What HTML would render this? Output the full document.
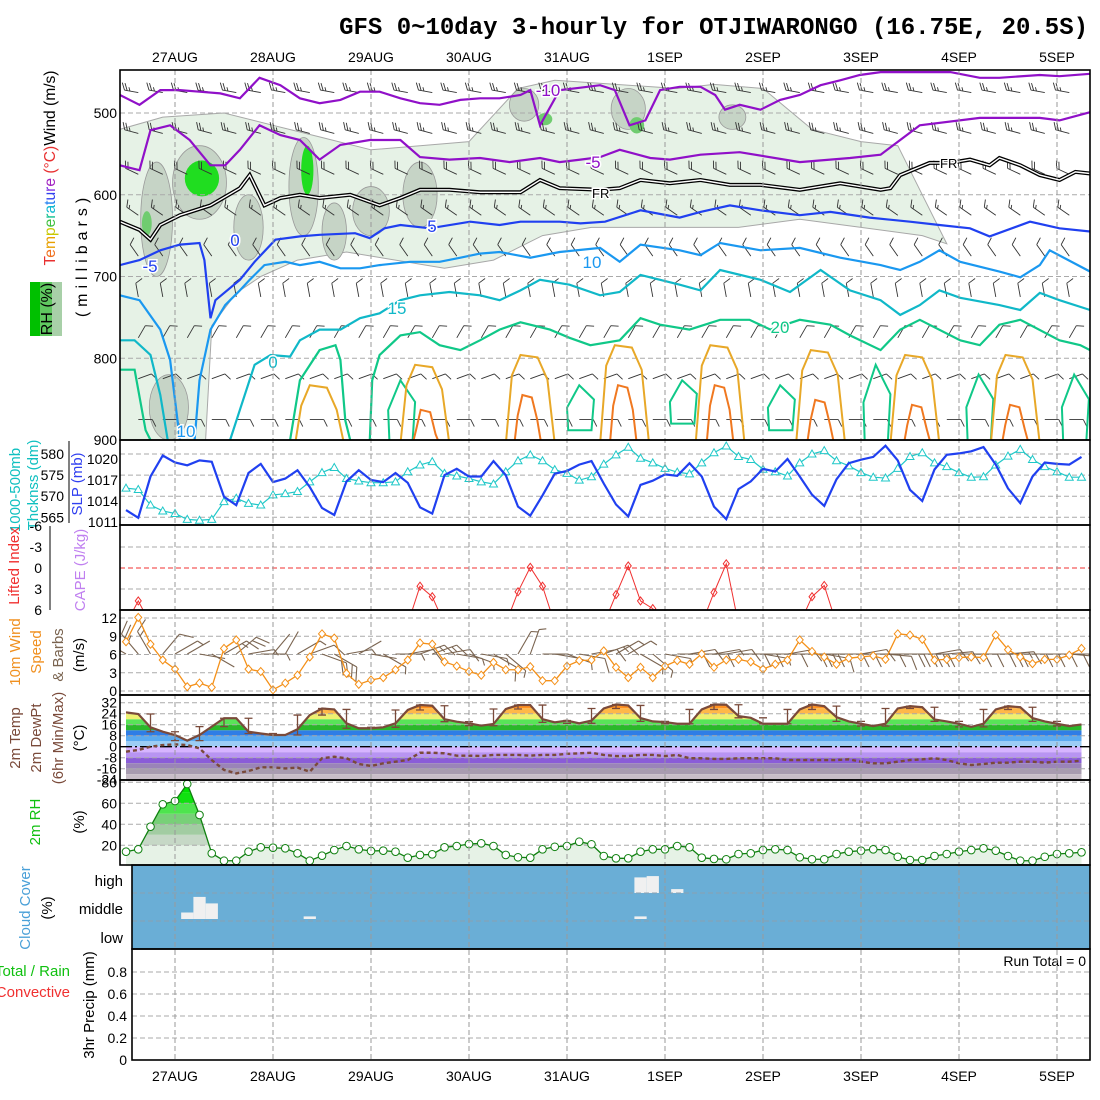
<!DOCTYPE html>
<html><head><meta charset="utf-8">
<style>body{margin:0;background:#fff}svg{display:block;font-family:"Liberation Sans",sans-serif}</style>
</head><body>
<svg id="c" width="1100" height="1100" viewBox="0 0 1100 1100" xmlns="http://www.w3.org/2000/svg">
<defs>
<clipPath id="cp1"><rect x="120" y="70" width="970" height="370"/></clipPath>
<clipPath id="cp2"><rect x="120" y="440" width="970" height="85"/></clipPath>
<clipPath id="cp3"><rect x="120" y="526" width="970" height="84"/></clipPath>
<clipPath id="cp4"><rect x="120" y="610" width="970" height="85"/></clipPath>
<clipPath id="cpT"><path id="tempArea"/></clipPath>
<clipPath id="cpR"><path id="rhArea"/></clipPath>
</defs>
<rect width="1100" height="1100" fill="#fff"/>
<text x="1088" y="34" text-anchor="end" font-family="Liberation Mono,monospace" font-weight="bold" font-size="24">GFS 0~10day 3-hourly for OTJIWARONGO (16.75E, 20.5S)</text>

<!-- left labels -->
<g font-size="16">
 <text transform="translate(55,168) rotate(-90)" text-anchor="middle" textLength="195" lengthAdjust="spacingAndGlyphs"><tspan fill="#e83030">T</tspan><tspan fill="#f07020">e</tspan><tspan fill="#e8a000">m</tspan><tspan fill="#c8c800">p</tspan><tspan fill="#40c040">e</tspan><tspan fill="#10c090">r</tspan><tspan fill="#10b8d0">a</tspan><tspan fill="#2080f0">t</tspan><tspan fill="#3040f0">u</tspan><tspan fill="#8030e0">r</tspan><tspan fill="#a020c0">e</tspan><tspan fill="#e83030"> (°C)</tspan><tspan fill="#000">Wind (m/s)</tspan></text>
 <rect x="30" y="282" width="32" height="54" fill="#60c860"/>
 <rect x="30" y="282" width="10" height="54" fill="#00c000"/>
 <rect x="52" y="282" width="10" height="54" fill="#a8d0a8"/>
 <text transform="translate(52,309) rotate(-90)" text-anchor="middle" fill="#000">RH (%)</text>
 <text transform="translate(87,255) rotate(-90)" text-anchor="middle" letter-spacing="5" fill="#000">(millibars)</text>
 <text transform="translate(20,490) rotate(-90)" text-anchor="middle" fill="#10c0c0" font-size="15">1000-500mb</text>
 <text transform="translate(38,485) rotate(-90)" text-anchor="middle" fill="#10c0c0" font-size="15">Thcknss (dm)</text>
 <text transform="translate(82,484) rotate(-90)" text-anchor="middle" fill="#3040f0" font-size="15">SLP (mb)</text>
 <text transform="translate(19,566) rotate(-90)" text-anchor="middle" fill="#f03030" font-size="15">Lifted Index</text>
 <text transform="translate(85,570) rotate(-90)" text-anchor="middle" fill="#c080f0" font-size="15">CAPE (J/kg)</text>
 <text transform="translate(20,652) rotate(-90)" text-anchor="middle" fill="#f09020" font-size="15">10m Wind</text>
 <text transform="translate(41,652) rotate(-90)" text-anchor="middle" fill="#f09020" font-size="15">Speed</text>
 <text transform="translate(63,655) rotate(-90)" text-anchor="middle" fill="#7a6450" font-size="15">&amp; Barbs</text>
 <text transform="translate(84,655) rotate(-90)" text-anchor="middle" fill="#000" font-size="15">(m/s)</text>
 <text transform="translate(20,738) rotate(-90)" text-anchor="middle" fill="#7a4a3a" font-size="15">2m Temp</text>
 <text transform="translate(41,738) rotate(-90)" text-anchor="middle" fill="#7a4a3a" font-size="15">2m DewPt</text>
 <text transform="translate(63,738) rotate(-90)" text-anchor="middle" fill="#7a4a3a" font-size="15">(6hr Min/Max)</text>
 <text transform="translate(84,738) rotate(-90)" text-anchor="middle" fill="#000" font-size="15">(°C)</text>
 <text transform="translate(40,822) rotate(-90)" text-anchor="middle" fill="#10c010" font-size="15">2m RH</text>
 <text transform="translate(84,822) rotate(-90)" text-anchor="middle" fill="#000" font-size="15">(%)</text>
 <text transform="translate(30,908) rotate(-90)" text-anchor="middle" fill="#4aa0d8" font-size="15">Cloud Cover</text>
 <text transform="translate(52,908) rotate(-90)" text-anchor="middle" fill="#000" font-size="15">(%)</text>
 <text x="70" y="976" text-anchor="end" fill="#10c010" font-size="15">Total / Rain</text>
 <text x="70" y="997" text-anchor="end" fill="#f03030" font-size="15">Convective</text>
 <text transform="translate(94,1005) rotate(-90)" text-anchor="middle" fill="#000" font-size="15">3hr Precip (mm)</text>
</g>
<g id="root"></g>
</svg>
<script>
// ---- data ----
const dates = ['27AUG','28AUG','29AUG','30AUG','31AUG','1SEP','2SEP','3SEP','4SEP','5SEP'];
const pressTicks = [500,600,700,800,900];
const slp = [1012.7,1011.6,1017.5,1020.5,1019.5,1019.1,1019.8,1019.6,1014.6,1013.4,1018,1019.3,1016.7,1017.2,1018.4,1016,1013,1012,1016.8,1018.4,1017,1016.7,1018,1016.6,1013.1,1012.2,1017.7,1018.6,1017.5,1017.5,1019.7,1017.7,1013.2,1011.9,1014.8,1017.9,1018.3,1019.2,1019.7,1016.5,1013.5,1011.8,1016.3,1016.9,1017.8,1017.6,1019.4,1017.5,1013.2,1011.4,1015.7,1016.8,1018.6,1018.2,1020,1017.5,1014.9,1013.3,1017.1,1019.4,1019.9,1020.3,1021.9,1019.8,1015.6,1014,1018.5,1020.6,1020.8,1021.1,1021.7,1019.2,1015.8,1013.7,1017.5,1019.5,1019.3,1019.2,1020.3];
const thick = [571.9,571.6,567.9,566.5,565.9,564.5,564.3,564.5,568.7,569.5,568.3,567.9,570.3,570.6,571.1,573.4,575.6,576.8,574.2,573.6,573.2,573.2,573.4,575.8,577.4,578.2,575.4,574.8,574.2,573.4,572.9,575.8,578.4,579.8,578.4,576.3,575.4,573.8,574.6,577.6,579.8,581.6,579,577.9,576.6,575.7,575.3,577.9,580.3,581.9,579.4,578.7,576.4,575.8,574.8,577.9,580,580.8,578.4,577.2,575.6,574.5,574.3,576.6,579.4,580.3,577.9,577,575.6,574.5,574.6,577.4,579.5,581.1,578.7,577,575.8,574.5,574.5];
const li = [8,4.7,8,9,9,9,9,9,9,9,9,9,9,9,9,9,9,9,9,9,9,9,9,8,2.6,4.1,8,9,9,9,9,8,3.4,-0.1,2.6,8,9,9,9,8,3.8,-0.3,4.7,5.8,8,9,9,8,3.5,-0.6,8,9,9,9,9,8,4.1,2.5,8,9,9,9,9,9,9,9,9,9,9,9,9,9,9,9,9,9,9,9,9];
const wind10 = [8.1,12.1,7.7,5.1,3.6,0.7,1.3,0.6,7.0,8.4,3.6,3.2,0.2,1.3,2.6,5.6,9.4,8.7,2.9,1.1,1.8,2.2,3.5,5.1,7.9,7.7,4.8,4.1,3.2,2.6,4.7,3.5,3.5,4.0,1.7,1.7,4.1,5.0,5.1,6.6,3.9,2.2,3.9,2.2,4.1,5.0,4.4,6.1,3.9,5.1,5.2,4.8,3.6,4.4,5.1,8.4,6.5,5.6,4.4,5.4,5.6,5.8,5.2,9.4,9.2,8.5,5.1,5.2,5.5,5.6,5.5,9.2,6.8,5.6,4.5,5.2,5.2,5.9,7.0];
const wdir10 = [300,320,330,40,60,60,100,120,60,50,80,90,40,30,60,70,110,120,80,60,100,120,90,80,70,70,80,100,110,100,120,130,30,20,90,100,110,100,80,70,60,60,120,130,100,90,80,90,80,80,90,90,100,90,80,90,90,100,90,90,80,90,95,90,90,90,80,85,90,90,90,90,85,90,90,90,90,95,90];
const temp = [25,23.8,14.1,10.9,8.5,4.4,8.5,14.6,20.7,20.7,10.9,9.6,8.5,8.5,12.7,23,27.8,27.1,17,13.4,13.4,14.1,17,26.7,30.3,29.8,20,18.2,17,15.3,16.5,27.4,30.3,30.3,20,17.7,19,17,19,27.8,30.7,30,20.8,18.4,17.9,16.7,16.7,27.1,30.7,30.5,22.3,21,16.7,16.7,16.7,27.1,30.7,29.5,21.5,18.4,16.7,15,16.7,27.8,29.5,28.7,19.8,18.4,16.7,14.4,16.7,27.1,29.5,28.7,20.8,18.4,16.7,15,16.2];
const dew = [-3.6,-2.4,0,1.2,1.7,1.2,-1.2,-9.7,-16.9,-19.4,-17.7,-15,-15,-15.8,-15.2,-18.2,-8.4,-7.3,-8.4,-12.6,-14,-12.1,-10.9,-9.7,-4.4,-4.4,-4.8,-6.5,-6.5,-6.8,-6,-6,-6,-6.5,-6,-6,-5.2,-4.8,-4.4,-6,-6.8,-6.8,-6,-6,-6.8,-6,-8.4,-8.4,-8.9,-8.9,-8.4,-8.4,-8.4,-8.4,-9.7,-9.7,-9.7,-9.7,-9.7,-9.2,-10.9,-12.1,-12.1,-10.9,-9.7,-9.2,-8.4,-9.7,-12.1,-13.3,-12.6,-11.6,-11.6,-10.9,-10.9,-11.6,-10.9,-10.9,-10.2];
const rh = [13.9,16.2,37.7,59,62.2,78.4,48.9,12.4,5.3,5.3,13.9,18.1,17.7,17.1,12.4,5.3,10.1,15.5,19.3,16.2,14.6,14.9,13.9,8.2,10.8,11.4,18.1,19.3,21.2,21.9,19.3,10.8,8.6,8.2,16.2,18.6,19.3,23.4,21,9.8,7.6,7.6,13.9,16.2,16.2,19.3,18.1,8.2,7,6.7,11.7,12.4,15.5,16.2,15.5,8.6,6.7,6.7,11.7,13.9,14.9,16.2,15.5,9.1,6,6,9.8,11.7,13.9,15.5,17.1,14.9,9.8,5.3,5.3,9.1,11.7,12.4,13.3];
const cloudIdx = [5,6,7,15,42,42,43,45];
const cloudLayer = ['mid','mid','mid','mid','high','mid','high','high'];
const cloudPct = [25,85,60,10,60,10,65,15];
// isotherms: time index / pressure (mb)
const m10T = [-0.5,1.1,2.8,4.4,6,7.7,9.3,10.9,12.6,14.2,15.8,17.5,19.1,20.7,22.4,24,25.6,27.3,28.9,30.5,32.2,33,33.8,35.4,37.1,38.7,39.9,41.1,42.4,43.6,45.2,46.9,48.1,48.9,50.1,51.8,53.4,55,56.7,58.3,59.9,61.6,63.2,67.3,69.7,71.3,74.6,76.2,78.7];
const m10P = [478,490,472,472,474,476,482,457,466,482,488,484,474,474,482,488,490,484,482,482,478,472,515,472,469,466,472,515,509,472,468,468,478,496,490,496,484,478,466,460,453.5,450,450,450,457,457,453.5,455,452];
const m5T = [-0.5,1.1,2,3.6,5.2,6.9,8.1,9.3,10.9,12.6,14.2,15,15.8,17.5,19.9,22.4,24,26.4,28.9,31.3,33.8,35.4,37.1,38.7,40.3,42.8,44.4,46.9,50.1,55,59.1,61.6,63.2,64.8,69.7,74.6,76.2,78.7];
const m5P = [564,570,521,515,533,564,564,545,515,527,533,545,557,539,533,533,554,557,555,560,555,560,557,554,545,555,557,551,548,560,555,551,533,515,506,506,509,499];
const frT = [-0.5,1.1,2,2.8,4.4,6.9,9.3,10.1,11.3,12.6,14.2,15.8,18.3,20.7,22.4,24,26.4,28.9,32.2,33.8,35.4,38.7,40.3,42,44.4,46.9,49.3,51.8,55,58.3,61.6,62.4,63.2,65.6,67.3,68.9,70.5,71.3,73,74.6,76.2,77.5,78.7];
const frP = [633,643,655,637,625,613,592,576,613,604,600,604,600,613,604,594,594,597,597,582,592,594,592,582,586,582,588,588,594,586,594,592,576,561,561,557,564,555,564,576,582,572,574];
const p5T = [-0.5,1.1,2.8,4.4,6,6.4,6.9,7.3,9.3,10.5,12.2,14.2,15.8,18.7,19.9,21.1,22.4,24.8,28.1,30.5,32.2,35.4,37.1,39.1,42,45.2,46.9,49.3,51.8,55,57.5,60.7,64,66.4,68.9,70.5,73.8,76.2,78.7];
const p5P = [686,680,668,661,659,680,751,729,704,682,655,651,649,647,653,641,637,641,633,637,633,633,635,633,619,628,621,613,619,625,621,628,633,637,641,651,633,641,645];
const p10T = [-0.5,1.1,2.8,3.6,4,4.4,null,5.6,6,6.9,8.1,9.3,10.1,11.3,13,14.2,15.8,17.5,19.1,20.7,23.2,25.6,27.3,28.9,30.5,33,35.4,38.7,40.3,42,45.2,46.9,48.5,51.8,55,58.3,61.6,63.2,64.8,66.4,68.1,71.3,73,74.6,75.4,78.7];
const p10P = [723,729,765,802,851,900,null,900,827,765,735,717,704,686,682,686,682,690,690,686,682,682,677,672,670,677,670,665,682,661,668,674,659,668,665,677,686,692,682,668,682,694,701,686,668,694];
const p15T = [-0.5,0.7,2,2.8,3.4,null,8.5,9.3,10.5,11.8,13.4,14.2,15.8,17.5,19.1,20.7,22.4,24,26.4,28.9,30.5,32.2,33.8,36.2,38.7,40.3,42,45.2,46.9,48.5,51.8,54.2,56.7,59.1,61.6,63.2,64.8,66.4,68.1,71.3,73,74.6,76.2,78.7];
const p15P = [778,778,796,845,900,null,900,863,808,796,798,778,765,765,751,745,729,723,719,723,729,717,704,710,723,719,698,710,717,692,704,719,692,717,729,747,735,717,726,735,741,720,729,741];
const p20T = [-0.5,0.7,1.6,2,null,13.4,14.2,15.8,17.1,17.5,17.9,18.3,null,19.9,20.1,20.7,22.4,24,25.6,27.3,28.9,30.5,32.2,34.6,36.2,37.9,40.3,42,43.6,46,48.5,50.9,52.6,55,57.5,59.1,61.6,63.2,64.8,68.1,69.7,71.3,73,76.2,77.9,78.7];
const p20P = [814,814,888,900,null,900,827,790,784,802,876,900,null,900,827,796,772,768,784,790,778,765,756,765,775,784,778,751,759,765,753,753,765,753,759,772,790,765,753,778,784,759,753,778,784,790];
const pocketT = [22.6,37.2,45.6,53.6,61.4,69.8,77.6];
const pocketTop = [827,833,827,833,808,820,820];
const pocketBot = [900,888,880,888,900,900,900];
const arch25T = [15.8,24.4,33,40.7,48.5,56.7,64.4,72.6];
const arch25Top = [833,808,796,784,784,790,796,796];
const arch30T = [24.5,32.8,40.6,48.5,56.7,64.6,72.6];
const arch30Top = [863,845,833,833,851,857,857];
const rhUpT = [-0.5,3,8,12,16,20,24,28,32,35,40,45,48,52,56,60,63,65,67];
const rhUpP = [520,505,500,515,530,545,540,535,470,460,465,470,465,470,520,535,540,600,660];
const rhLoT = [65,60,55,50,46,42,38,34,30,26,22,18,14,11,9,7,6.5,-0.5];
const rhLoP = [650,640,630,640,640,640,640,650,680,690,680,670,680,700,720,760,900,900];
const blobT = [2.5,6,14.5,10,20,24,32.5,41,49.5,3.5,17];
const blobP1 = [560,540,530,600,590,560,470,470,490,820,610];
const blobP2 = [700,630,650,680,650,640,510,520,520,900,680];
const blobW = [1.3,2.2,1.2,1.2,1.5,1.4,1.2,1.4,1.1,1.6,1];
const greenT = [6.2,14.8,1.7,34.2,41.7];
const greenP1 = [558,540,620,500,505];
const greenP2 = [602,600,650,515,525];
const greenW = [1.4,0.5,0.4,0.6,0.6];
const barbLevels = [475,525,575,625,675,725,775,825,875];
const barbSpd = [14,14,11,8,6,5,5,5,5];
const barbDir = [280,285,295,305,325,350,30,70,90];

// ---- scales ----
const X = i => 126 + 12.25*i;
const yP = p => 113 + (p-500)*0.8175;
const yTh = v => 454 + (580-v)*4.22;
const ySlp = v => 459 + (1020-v)*7;
const yLI = v => 568 + v*7;
const yW = v => 691 - v*6.08;
const yT = v => 746.7 - v*1.375;
const yRH = v => 866.3 - v*1.05;
const yPr = v => 1060 - v*110;

const NS='http://www.w3.org/2000/svg';
const root=document.getElementById('root');
function mk(parent,tag,attrs){const e=document.createElementNS(NS,tag);for(const k in attrs)e.setAttribute(k,attrs[k]);parent.appendChild(e);return e;}
function grp(clip){const g=mk(root,'g',clip?{'clip-path':'url(#'+clip+')'}:{});return g;}
function pathFrom(ts,ps){let d='',pen=false;for(let k=0;k<ts.length;k++){if(ts[k]===null){pen=false;continue;}d+=(pen?'L':'M')+X(ts[k]).toFixed(1)+' '+yP(ps[k]).toFixed(1)+' ';pen=true;}return d;}
function txt(parent,x,y,s,attrs){const e=mk(parent,'text',Object.assign({x:x,y:y},attrs||{}));e.textContent=s;return e;}

// ---- panel 1 ----
const g1=grp('cp1');
let d='M'+X(rhUpT[0])+' '+yP(rhUpP[0]);
for(let k=1;k<rhUpT.length;k++)d+=' L'+X(rhUpT[k]).toFixed(1)+' '+yP(rhUpP[k]).toFixed(1);
for(let k=0;k<rhLoT.length;k++)d+=' L'+X(rhLoT[k]).toFixed(1)+' '+yP(rhLoP[k]).toFixed(1);
let e=mk(g1,'path',{d:d+'Z',fill:'#e6f2e6',stroke:'#a8a8a8','stroke-width':1});


for(let k=0;k<blobT.length;k++){
 const cy=(yP(blobP1[k])+yP(blobP2[k]))/2, ry=(yP(blobP2[k])-yP(blobP1[k]))/2;
 e=mk(g1,'ellipse',{cx:X(blobT[k]),cy:cy,rx:blobW[k]*12.25,ry:ry,fill:'#c6d4c6',stroke:'#999','stroke-width':0.8});
 
 
}
for(let k=0;k<greenT.length;k++){
 const cy=(yP(greenP1[k])+yP(greenP2[k]))/2, ry=(yP(greenP2[k])-yP(greenP1[k]))/2;
 e=mk(g1,'ellipse',{cx:X(greenT[k]),cy:cy,rx:greenW[k]*12.25,ry:ry,fill:k===0||k===1?'#20dd20':'#70cc70'});
 
 
}
for(let k=0;k<pressTicks.length;k++){
 e=mk(g1,'line',{x1:120,x2:1090,y1:yP(pressTicks[k]),y2:yP(pressTicks[k]),stroke:'#aaa','stroke-dasharray':'5,3'});
 
 
}
function barb(parent,x,y,dir,spd,len,col,sw){
 const a=dir*Math.PI/180, ux=Math.sin(a), uy=-Math.cos(a);
 const ex=x+ux*len, ey=y+uy*len;
 let dd='M'+x.toFixed(1)+' '+y.toFixed(1)+' L'+ex.toFixed(1)+' '+ey.toFixed(1);
 let n=Math.floor(spd/5), half=(spd%5)>=2.5, pos=0;
 const bx=-uy, by=ux, bl=len*0.5;
 for(let j=0;j<n;j++){const px=ex-ux*pos, py=ey-uy*pos;dd+=' M'+px.toFixed(1)+' '+py.toFixed(1)+' l'+((bx+ux*0.5)*bl).toFixed(1)+' '+((by+uy*0.5)*bl).toFixed(1);pos+=len*0.2;}
 if(half){const px=ex-ux*pos, py=ey-uy*pos;dd+=' M'+px.toFixed(1)+' '+py.toFixed(1)+' l'+((bx+ux*0.5)*bl*0.5).toFixed(1)+' '+((by+uy*0.5)*bl*0.5).toFixed(1);}
 return mk(parent,'path',{d:dd,stroke:col,'stroke-width':sw,fill:'none'});
}
for(let i=1;i<79;i+=2){for(let k=0;k<barbLevels.length;k++){
 e=barb(g1,X(i),yP(barbLevels[k]),barbDir[k],barbSpd[k],14,'#333',0.9);
 
 
}}
function arch(c,top,hw){return 'M'+X(c-hw).toFixed(1)+' '+yP(905)+' L'+X(c-hw*0.75).toFixed(1)+' '+yP(top+25).toFixed(1)+' L'+X(c-hw*0.4).toFixed(1)+' '+yP(top).toFixed(1)+' L'+X(c+hw*0.3).toFixed(1)+' '+yP(top+3).toFixed(1)+' L'+X(c+hw*0.7).toFixed(1)+' '+yP(top+30).toFixed(1)+' L'+X(c+hw).toFixed(1)+' '+yP(905);}
for(let k=0;k<pocketT.length;k++){
 const c=pocketT[k],t=pocketTop[k],b=pocketBot[k];
 e=mk(g1,'path',{d:'M'+X(c-1.1)+' '+yP(b)+' L'+X(c-1.2)+' '+yP((t+b)/2)+' L'+X(c-0.2)+' '+yP(t)+' L'+X(c+1)+' '+yP((t+b)/2-10)+' L'+X(c+0.8)+' '+yP(b)+(b<900?'Z':''),fill:'none',stroke:'#10c888','stroke-width':2});
 
 
}
for(let k=0;k<arch25T.length;k++){
 e=mk(g1,'path',{d:arch(arch25T[k],arch25Top[k],2),fill:'none',stroke:'#e8a828','stroke-width':2});
 
 
}
for(let k=0;k<arch30T.length;k++){
 e=mk(g1,'path',{d:arch(arch30T[k],arch30Top[k],1.1),fill:'none',stroke:'#f07820','stroke-width':2});
 
 
}
const isos=[[m10T,m10P,'#9010c8','isotherm-minus10'],[m5T,m5P,'#9010c8','isotherm-minus5'],[p5T,p5P,'#2040f0','isotherm-5'],[p10T,p10P,'#1a98f0','isotherm-10'],[p15T,p15P,'#10b8c8','isotherm-15'],[p20T,p20P,'#10c888','isotherm-20']];
for(const s of isos){
 e=mk(g1,'path',{d:pathFrom(s[0],s[1]),fill:'none',stroke:s[2],'stroke-width':2.2});
 
 
}
e=mk(g1,'path',{d:pathFrom(frT,frP),fill:'none',stroke:'#000','stroke-width':4});


e=mk(g1,'path',{d:pathFrom(frT,frP),fill:'none',stroke:'#fff','stroke-width':1.4});


const isoLab=[['-10',548,96,'#9010c8'],['-5',593,168,'#9010c8'],['5',432,232,'#2040f0'],['10',592,268,'#1a98f0'],['15',397,314,'#10b8c8'],['20',780,333,'#10c888'],['0',235,246,'#2040f0'],['-5',150,272,'#2040f0'],['10',186,437,'#1a98f0'],['0',273,368,'#10b8c8']];
for(const l of isoLab){
 e=txt(g1,l[1],l[2],l[0],{fill:l[3],'font-size':17,'text-anchor':'middle',stroke:'#fff','stroke-width':3,'paint-order':'stroke'});
 
 
}
e=txt(g1,592,198,'FR',{'font-size':13,fill:'#000',stroke:'#fff','stroke-width':3,'paint-order':'stroke'});


e=txt(g1,940,168,'FR',{'font-size':13,fill:'#000',stroke:'#fff','stroke-width':3,'paint-order':'stroke'});


for(let k=0;k<pressTicks.length;k++){
 e=txt(root,117,yP(pressTicks[k])+5,String(pressTicks[k]),{'text-anchor':'end','font-size':14});
 
 
}

// ---- panel 2 ----
const g2=grp('cp2');
const thTicks=[565,570,575,580], slpTicks=[1011,1014,1017,1020];
for(const v of thTicks){
 e=mk(g2,'line',{x1:120,x2:1090,y1:yTh(v),y2:yTh(v),stroke:'#aaa','stroke-dasharray':'5,3'});
 
 
 e=txt(root,64,yTh(v)+5,String(v),{'text-anchor':'end','font-size':14});
 
 
}
for(const v of slpTicks){
 e=txt(root,118,ySlp(v)+5,String(v),{'text-anchor':'end','font-size':14});
 
 
}
e=mk(root,'line',{x1:69,x2:69,y1:441,y2:523,stroke:'#000'});


e=mk(g2,'polyline',{points:thick.map((v,i)=>X(i)+','+yTh(v)).join(' '),fill:'none',stroke:'#20c8c8','stroke-width':1.2});


thick.forEach((v,i)=>{
 const x=X(i),y=yTh(v);
 const m=mk(g2,'path',{d:'M'+x+' '+(y-4)+' L'+(x+4)+' '+(y+3)+' L'+(x-4)+' '+(y+3)+'Z',fill:'#fff',stroke:'#20c8c8','stroke-width':1});
 
 
});
e=mk(g2,'polyline',{points:slp.map((v,i)=>X(i)+','+ySlp(v)).join(' '),fill:'none',stroke:'#2040f0','stroke-width':2.2});



// ---- panel 3 ----
const g3=grp('cp3');
const liTicks=[-6,-3,0,3,6];
for(const v of liTicks){
 if(v>-6&&v<6){
  e=mk(g3,'line',{x1:120,x2:1090,y1:yLI(v),y2:yLI(v),stroke:v===0?'#f03030':'#aaa','stroke-dasharray':'5,3'});
  
  
 }
 e=txt(root,42,yLI(v)+5,String(v),{'text-anchor':'end','font-size':14});
 
 
}
e=mk(root,'line',{x1:50,x2:50,y1:526,y2:610,stroke:'#000'});


e=mk(g3,'polyline',{points:li.map((v,i)=>X(i)+','+yLI(v)).join(' '),fill:'none',stroke:'#f03030','stroke-width':1});


li.forEach((v,i)=>{if(v<6.5){
 const x=X(i),y=yLI(v);
 const m=mk(g3,'path',{d:'M'+x+' '+(y-4)+' L'+(x+3)+' '+y+' L'+x+' '+(y+4)+' L'+(x-3)+' '+y+'Z',fill:'none',stroke:'#f03030'});
 
 
}});

// ---- panel 4 ----
const g4=grp('cp4');
for(const v of [0,3,6,9,12]){
 e=mk(g4,'line',{x1:120,x2:1090,y1:yW(v),y2:yW(v),stroke:'#aaa','stroke-dasharray':'5,3'});
 
 
 e=txt(root,117,yW(v)+5,String(v),{'text-anchor':'end','font-size':14});
 
 
}
wind10.forEach((v,i)=>{
 const m=barb(g4,X(i),654,wdir10[i]===undefined?90:wdir10[i],v*1.2,26,'#7a6450',1.1);
 
 
});
e=mk(g4,'polyline',{points:wind10.map((v,i)=>X(i)+','+yW(v)).join(' '),fill:'none',stroke:'#f49018','stroke-width':1.3});


wind10.forEach((v,i)=>{
 const x=X(i),y=yW(v);
 const m=mk(g4,'path',{d:'M'+x+' '+(y-4)+' L'+(x+3.5)+' '+y+' L'+x+' '+(y+4)+' L'+(x-3.5)+' '+y+'Z',fill:'#fff',stroke:'#f49018'});
 
 
});

// ---- panel 5 ----
const g5=grp();
let ta='M'+X(0)+' '+yT(0);
temp.forEach((v,i)=>{ta+=' L'+X(i)+' '+yT(Math.max(v,0));});
ta+=' L'+X(temp.length-1)+' '+yT(0)+'Z';
document.getElementById('tempArea').setAttribute('d',ta);
const negBands=[[0,-4,'#d6b4ff'],[-4,-8,'#b894f2'],[-8,-12,'#8a5cd8'],[-12,-16,'#9a84b8'],[-16,-20,'#a89cb0'],[-20,-25,'#c8bec8']];
for(const b of negBands){
 e=mk(g5,'rect',{x:X(0),y:yT(b[0]),width:X(temp.length-1)-X(0),height:yT(b[1])-yT(b[0]),fill:b[2]});
 
 
}
const gT=mk(g5,'g',{'clip-path':'url(#cpT)'});
const posBands=[[0,4,'#9ccdf5'],[4,8,'#5aaaf0'],[8,12,'#2f7de6'],[12,16,'#2ab82a'],[16,20,'#58e458'],[20,24,'#eef070'],[24,28,'#ffb848'],[28,32,'#ff9020'],[32,40,'#ff6000']];
for(const b of posBands){
 e=mk(gT,'rect',{x:120,y:yT(b[1]),width:970,height:yT(b[0])-yT(b[1]),fill:b[2]});
 
 
}
const tTicks=[32,24,16,8,0,-8,-16,-24];
for(const v of tTicks){
 e=mk(g5,'line',{x1:120,x2:1090,y1:yT(v),y2:yT(v),stroke:v===0?'#000':'#aaa','stroke-dasharray':v===0?'12,3,2,3':'5,3','stroke-width':v===0?1.3:1});
 
 
 e=txt(root,117,yT(v)+5,String(v),{'text-anchor':'end','font-size':14});
 
 
}
for(let i=2;i<temp.length-1;i+=2){
 const hi=Math.max(temp[i-1],temp[i],temp[i+1]), lo=Math.min(temp[i-1],temp[i],temp[i+1]);
 const x=X(i);
 e=mk(g5,'path',{d:'M'+x+' '+yT(hi)+' L'+x+' '+yT(lo)+' M'+(x-4)+' '+yT(hi)+' L'+(x+4)+' '+yT(hi)+' M'+(x-4)+' '+yT(lo)+' L'+(x+4)+' '+yT(lo),stroke:'#7a4a3a','stroke-width':1.3,fill:'none'});
 
 
}
e=mk(g5,'polyline',{points:temp.map((v,i)=>X(i)+','+yT(v)).join(' '),fill:'none',stroke:'#7a4a3a','stroke-width':2.2});


e=mk(g5,'polyline',{points:dew.map((v,i)=>X(i)+','+yT(v)).join(' '),fill:'none',stroke:'#7a4a3a','stroke-width':2.4,'stroke-dasharray':'4,3'});



// ---- panel 6 ----
const g6=grp();
let ra='M'+X(0)+' '+yRH(0);
rh.forEach((v,i)=>{ra+=' L'+X(i)+' '+yRH(v);});
ra+=' L'+X(rh.length-1)+' '+yRH(0)+'Z';
document.getElementById('rhArea').setAttribute('d',ra);
const gR=mk(g6,'g',{'clip-path':'url(#cpR)'});
const rhBands=[[0,20,'#e6f2e6'],[20,30,'#c6d8c6'],[30,40,'#a2cca2'],[40,50,'#78d078'],[50,60,'#4ee44e'],[60,70,'#10e010'],[70,80,'#00e000'],[80,100,'#00c000']];
for(const b of rhBands){
 e=mk(gR,'rect',{x:120,y:yRH(b[1]),width:970,height:yRH(b[0])-yRH(b[1]),fill:b[2]});
 
 
}
for(const v of [20,40,60,80]){
 e=mk(g6,'line',{x1:120,x2:1090,y1:yRH(v),y2:yRH(v),stroke:'#aaa','stroke-dasharray':'5,3'});
 
 
 e=txt(root,117,yRH(v)+5,String(v),{'text-anchor':'end','font-size':14});
 
 
}
e=mk(g6,'polyline',{points:rh.map((v,i)=>X(i)+','+yRH(v)).join(' '),fill:'none',stroke:'#108010','stroke-width':1.3});


rh.forEach((v,i)=>{
 const m=mk(g6,'circle',{cx:X(i),cy:yRH(v),r:3.8,fill:'#fff',stroke:'#108010'});
 
 
});

// ---- panel 7 (cloud) ----
const g7=grp();
e=mk(g7,'rect',{x:132,y:865,width:958,height:84,fill:'#6aaed6'});


const layerBot={high:893,mid:919,low:947};
for(let k=0;k<cloudIdx.length;k++){
 const h=26*cloudPct[k]/100, x=X(cloudIdx[k])-6.1;
 e=mk(g7,'rect',{x:x,y:layerBot[cloudLayer[k]]-h,width:12.25,height:h,fill:'#f0f0f0'});
 
 
}
for(const yy of [893,921]){
 e=mk(g7,'line',{x1:132,x2:1090,y1:yy,y2:yy,stroke:'#8aa0b0','stroke-dasharray':'5,3'});
 
 
}
[['high',886],['middle',914],['low',943]].forEach(l=>{
 e=txt(root,123,l[1],l[0],{'text-anchor':'end','font-size':15});
 
 
});

// ---- panel 8 (precip) ----
const g8=grp();
for(const v of [0,0.2,0.4,0.6,0.8]){
 if(v>0){
  e=mk(g8,'line',{x1:132,x2:1090,y1:yPr(v),y2:yPr(v),stroke:'#aaa','stroke-dasharray':'5,3'});
  
  
 }
 e=txt(root,127,yPr(v)+5,String(v),{'text-anchor':'end','font-size':14});
 
 
}
e=txt(root,1086,966,'Run Total = 0',{'text-anchor':'end','font-size':14});



// ---- vertical day grid + date labels ----
dates.forEach((s,k)=>{
 const x=X(4+8*k);
 const v=mk(root,'line',{x1:x,x2:x,y1:70,y2:1060,stroke:'#999','stroke-dasharray':'5,3'});
 
 
 const a=txt(root,x,62,s,{'text-anchor':'middle','font-size':14});
 
 
 const b=txt(root,x,1081,s,{'text-anchor':'middle','font-size':14});
 
 
});

// ---- frames ----
const frames=[[120,70,970,370],[120,440,970,85],[120,525,970,85],[120,610,970,85],[120,695,970,85],[120,780,970,85],[132,865,958,84],[132,949,958,111]];
frames.forEach(f=>{
 const r=mk(root,'rect',{x:f[0],y:f[1],width:f[2],height:f[3],fill:'none',stroke:'#000','stroke-width':1.6});
 
 
});
</script>
</body></html>
